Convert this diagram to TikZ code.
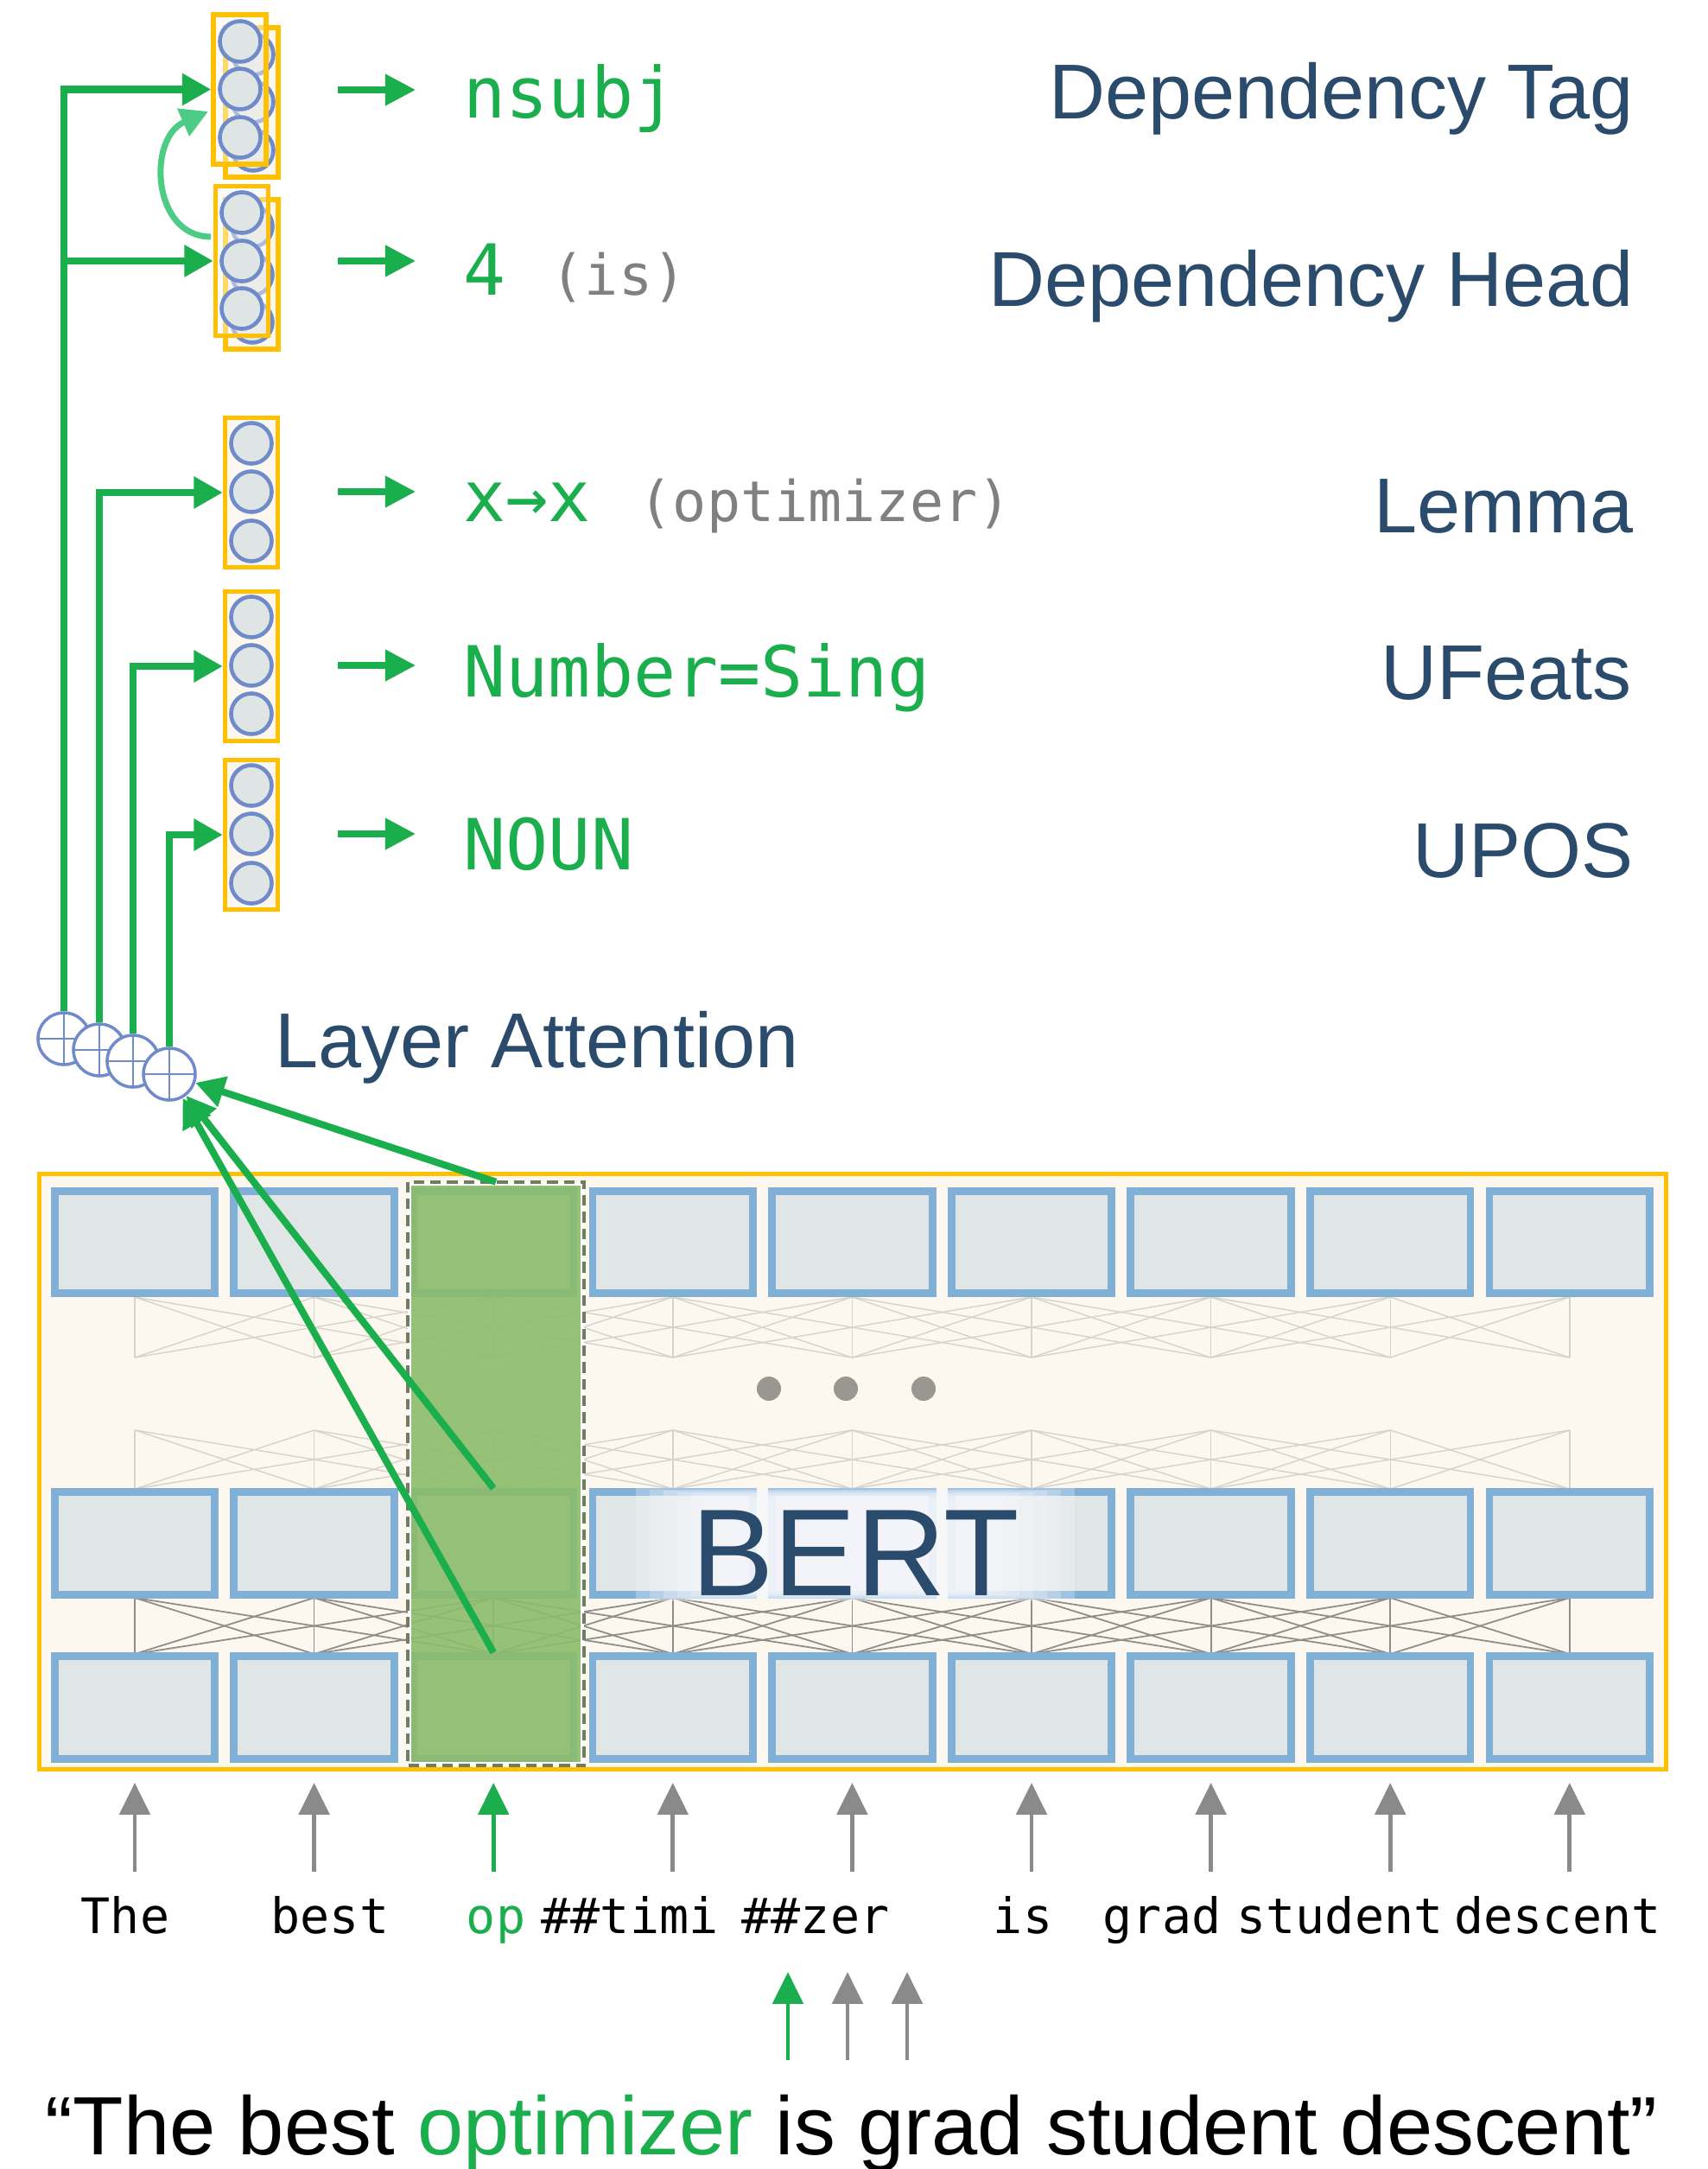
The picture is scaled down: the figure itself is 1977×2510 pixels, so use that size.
\documentclass[tikz,border=0pt]{standalone}
\usepackage{fontspec}
\setmainfont{Liberation Sans}
\newfontfamily\monof{DejaVu Sans Mono}
\usetikzlibrary{arrows.meta,calc}
\definecolor{gr}{HTML}{1BAE4D}
\definecolor{grl}{HTML}{4DCC85}
\definecolor{org}{HTML}{FFC000}
\definecolor{cream}{HTML}{FCF8EF}
\definecolor{unitfill}{HTML}{DFE5E5}
\definecolor{unitblue}{HTML}{6F8BC9}
\definecolor{boxblue}{HTML}{80B0D6}
\definecolor{boxfill}{HTML}{E0E6E6}
\definecolor{navy}{HTML}{2A4B6C}
\definecolor{txtgray}{HTML}{808080}
\definecolor{arrgray}{HTML}{8A8A8A}
\definecolor{colgreen}{HTML}{8CBD6C}
\definecolor{colborder}{HTML}{6E7E60}
\definecolor{dotgray}{HTML}{9A9690}
\definecolor{bandl}{HTML}{D6D3CC}
\definecolor{bandd}{HTML}{8F8D89}
\definecolor{halo}{HTML}{F6F7FC}
\begin{document}
\begin{tikzpicture}[x=0.01cm,y=-0.01cm,
  stackbox/.style={rectangle, draw=org, line width=1.5pt, fill=cream, minimum width=0.61cm, minimum height=1.73cm, inner sep=0pt},
  frontbox/.style={stackbox, fill opacity=0.45},
  unit/.style={circle, draw=unitblue, line width=1.3pt, fill=unitfill, minimum size=0.47cm, inner sep=0pt},
  oplus/.style={circle, draw=unitblue, line width=1pt, fill=white, minimum size=0.6cm, inner sep=0pt,
    path picture={\draw[unitblue, line width=0.8pt] (path picture bounding box.north) -- (path picture bounding box.south) (path picture bounding box.west) -- (path picture bounding box.east);}},
  layerbox/.style={rectangle, draw=boxblue, line width=2.5pt, fill=boxfill, minimum width=1.855cm, minimum height=1.185cm, inner sep=0pt},
  garrow/.style={draw=gr, line width=2.3pt, -{Triangle[length=9.5pt,width=10pt]}},
  curvearrow/.style={draw=grl, line width=2pt, -{Triangle[length=9pt,width=9.5pt]}},
  oarrow/.style={draw=gr, line width=2pt, -{Triangle[length=10pt,width=10pt]}},
  tokarrow/.style={line width=1.4pt, -{Triangle[length=10.5pt,width=10pt]}},
  rlabel/.style={anchor=base east, inner sep=0pt, text=navy, font=\fontsize{25.6pt}{30pt}\selectfont},
  glabel/.style={anchor=base west, inner sep=0pt, text=gr, font=\monof\fontsize{23.2pt}{28pt}\selectfont},
  plabel/.style={anchor=base west, inner sep=0pt, text=txtgray, font=\monof\fontsize{18.5pt}{22pt}\selectfont},
  tok/.style={anchor=base, inner sep=0pt, font=\monof\fontsize{16.1pt}{20pt}\selectfont},
  dotn/.style={circle, fill=dotgray, minimum size=0.28cm, inner sep=0pt},
  bandlight/.style={draw=bandl, line width=0.4pt},
  banddark/.style={draw=bandd, line width=0.5pt}
]
\useasboundingbox (0,0) rectangle (1977,2510);
\fill[white] (0,0) rectangle (1977,2510);

% ---------- classifier stacks ----------
\node[stackbox] (tagb) at (291.5,118.5) {};
\node[unit] (tagb1) at (293,63) {};
\node[unit] (tagb2) at (293,118) {};
\node[unit] (tagb3) at (293,174) {};
\node[frontbox] (tag) at (277.5,103.5) {};
\node[unit] (tag1) at (278,48) {};
\node[unit] (tag2) at (278,103) {};
\node[unit] (tag3) at (278,159) {};
\node[stackbox] (headb) at (291.5,317.5) {};
\node[unit] (headb1) at (292,262) {};
\node[unit] (headb2) at (292,318) {};
\node[unit] (headb3) at (292,373) {};
\node[frontbox] (head) at (280,302) {};
\node[unit] (head1) at (280,246) {};
\node[unit] (head2) at (280,302) {};
\node[unit] (head3) at (280,357) {};
\node[stackbox] (lem) at (291,570) {};
\node[unit] (lem1) at (291,513) {};
\node[unit] (lem2) at (291,569) {};
\node[unit] (lem3) at (291,626) {};
\node[stackbox] (uf) at (291,771) {};
\node[unit] (uf1) at (291,714) {};
\node[unit] (uf2) at (291,770) {};
\node[unit] (uf3) at (291,826) {};
\node[stackbox] (upos) at (291,966) {};
\node[unit] (upos1) at (291,909) {};
\node[unit] (upos2) at (291,965) {};
\node[unit] (upos3) at (291,1022) {};

% ---------- layer attention sums ----------
\node[oplus] (op1) at (74,1202) {};
\node[oplus] (op2) at (115,1215) {};
\node[oplus] (op3) at (154,1228) {};
\node[oplus] (op4) at (196,1243) {};

\draw[garrow] (op1.north) |- (tag.west);
\draw[garrow] (op1.north |- head.west) -- (head.west);
\draw[garrow] (op2.north) |- (lem.west);
\draw[garrow] (op3.north) |- (uf.west);
\draw[garrow] (op4.north) |- (upos.west);

\coordinate (cvs) at (244,274);
\coordinate (cve) at (241,129);
\draw[curvearrow] (cvs) .. controls (176,274) and (170,160) .. (cve);

% ---------- outputs ----------
\foreach \n/\yy in {1/104,2/302,3/569,4/770,5/965}{
  \coordinate (os\n) at (391,\yy);
  \coordinate (oe\n) at (481,\yy);
  \draw[oarrow] (os\n) -- (oe\n);
}
\node[glabel] (t1) at (536,137) {nsubj};
\node[glabel] (t2) at (536,342) {4};
\node[plabel] (t2b) at (637,342) {(is)};
\node[glabel] (t3) at (536,604) {x→x};
\node[plabel] (t3b) at (739,604) {(optimizer)};
\node[glabel] (t4) at (536,806) {Number=Sing};
\node[glabel] (t5) at (536,1006) {NOUN};

\node[rlabel] (r1) at (1891,138) {Dependency Tag};
\node[rlabel] (r2) at (1891,355) {Dependency Head};
\node[rlabel] (r3) at (1891,617) {Lemma};
\node[rlabel] (r4) at (1889,810) {UFeats};
\node[rlabel] (r5) at (1891,1015) {UPOS};
\node[anchor=base west, inner sep=0pt, text=navy, font=\fontsize{25.6pt}{30pt}\selectfont] (la) at (318,1235) {Layer Attention};

% ---------- BERT ----------
\node[rectangle, draw=org, line width=1.4pt, fill=cream, minimum width=18.82cm, minimum height=6.88cm, inner sep=0pt] (bert) at (987,1703) {};

\foreach \yt/\yb/\st in {1501/1571/bandlight,1655/1723/bandlight,1849/1914/banddark}{
  \foreach \i in {0,...,8}{
    \foreach \j in {-2,...,2}{
      \pgfmathtruncatemacro{\k}{\i+\j}
      \ifnum\k<0 \else \ifnum\k>8 \else
        \draw[\st] ({156+207.6*\i},\yt) -- ({156+207.6*\k},\yb);
      \fi\fi
    }
  }
}

\foreach \r/\yc in {1/1437.5,2/1786,3/1976}{
  \foreach \i in {1,...,9}{
    \node[layerbox] (b\r\i) at ({156+207.6*(\i-1)},\yc) {};
  }
}

% soft white glow behind the BERT label
\foreach \s in {0,...,7}{
  \fill[halo, fill opacity=0.27] ({736+\s*16},{1722+\s*1.5}) rectangle ({1244-\s*16},{1853-\s*1.5});
}
\node[anchor=base, inner sep=0pt, text=navy, font=\fontsize{40.7pt}{46pt}\selectfont] (bertlabel) at (990,1846) {BERT};

\node[dotn] (d1) at (890,1607) {};
\node[dotn] (d2) at (979,1607) {};
\node[dotn] (d3) at (1069,1607) {};

\node[rectangle, fill=colgreen, fill opacity=0.9, draw=white, line width=1.2pt, minimum width=2.0cm, minimum height=6.71cm, inner sep=0pt] (colg) at (574,1705.5) {};
\draw[colborder, line width=1.2pt, dash pattern=on 3.5pt off 2pt] (colg.north west) rectangle (colg.south east);

\draw[garrow] (colg.north) -- (op4);
\draw[garrow] (b23.north) -- (op4);
\draw[garrow] (b33.north) -- (op4);

% ---------- tokens ----------
\foreach \i/\c in {1/arrgray,2/arrgray,3/gr,4/arrgray,5/arrgray,6/arrgray,7/arrgray,8/arrgray,9/arrgray}{
  \coordinate (ta\i) at ({156+207.6*(\i-1)},2166);
  \coordinate (tb\i) at ({156+207.6*(\i-1)},2063);
  \draw[tokarrow, draw=\c] (ta\i) -- (tb\i);
}
\node[tok] (w1) at (145,2237) {The};
\node[tok] (w2) at (382,2237) {best};
\node[tok, text=gr] (w3) at (574,2237) {op};
\node[tok] (w4) at (729,2237) {\#\#timi};
\node[tok] (w5) at (944,2237) {\#\#zer};
\node[tok] (w6) at (1184,2237) {is};
\node[tok] (w7) at (1345,2237) {grad};
\node[tok] (w8) at (1551,2237) {student};
\node[tok] (w9) at (1803,2237) {descent};

\foreach \n/\xx/\c in {1/912/gr,2/981/arrgray,3/1050/arrgray}{
  \coordinate (sa\n) at (\xx,2384);
  \coordinate (sb\n) at (\xx,2282);
  \draw[tokarrow, draw=\c] (sa\n) -- (sb\n);
}
\node[anchor=base west, inner sep=0pt, font=\fontsize{27.2pt}{32pt}\selectfont] (sent) at (52,2493) {“The best \textcolor{gr}{optimizer} is grad student descent”};
\end{tikzpicture}
\end{document}
